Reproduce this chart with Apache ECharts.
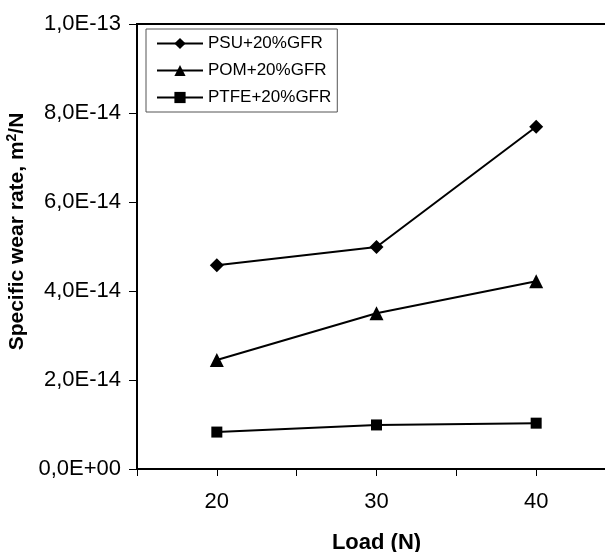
<!DOCTYPE html>
<html>
<head>
<meta charset="utf-8">
<script src="https://cdn.jsdelivr.net/npm/echarts@6/dist/echarts.min.js"></script>
<style>
  html, body { margin: 0; padding: 0; background: #fff; }
  #chart { width: 605px; height: 552px; }
</style>
</head>
<body>
<div id="chart"></div>
<script>
// Data
const loads = [20, 30, 40]
const psu = [4.58e-14, 4.99e-14, 7.69e-14]
const pom = [2.45e-14, 3.50e-14, 4.22e-14]
const ptfe = [0.83e-14, 0.99e-14, 1.03e-14]
const xTickLabels = [20, 30, 40]

const font = 'Liberation Sans, Arial, sans-serif'

// 1.0e-13 -> "1,0E-13"
const sciLabel = v => {
  const [m, e] = v.toExponential(1).split('e')
  const n = parseInt(e, 10)
  const exp = (n < 0 ? '-' : '+') + String(Math.abs(n)).padStart(2, '0')
  return m.replace('.', ',') + 'E' + exp
}

const pairs = ys => loads.map((x, i) => [x, ys[i]])

const chart = echarts.init(document.getElementById('chart'))

const lineSeries = (name, ys, symbol, size) => ({
  name,
  type: 'line',
  data: pairs(ys),
  symbol,
  symbolSize: size,
  showAllSymbol: true,
  lineStyle: { color: '#000', width: 2 },
  itemStyle: { color: '#000' },
  emphasis: { disabled: true }
})

const options = {
  animation: false,
  backgroundColor: '#fff',
  // plot runs past the right edge of the picture (x = 45 sits off-canvas)
  grid: {
    left: 137, top: 24, width: 479, height: 445,
    outerBoundsMode: 'none',
    containLabel: false,
    show: true, borderColor: '#000', borderWidth: 2
  },
  legend: {
    left: 146, top: 29,
    orient: 'vertical',
    backgroundColor: '#fff',
    borderColor: '#555', borderWidth: 1,
    padding: [6, 6, 6, 10],
    itemWidth: 46, itemHeight: 14, itemGap: 10,
    textStyle: { fontFamily: font, fontSize: 17, color: '#000' },
    data: ['PSU+20%GFR', 'POM+20%GFR', 'PTFE+20%GFR']
  },
  xAxis: {
    type: 'value',
    min: 15, max: 45, interval: 5,
    name: 'Load (N)',
    nameLocation: 'middle',
    nameGap: 63,
    nameTextStyle: { fontFamily: font, fontSize: 22, fontWeight: 'bold', color: '#000' },
    axisLine: { lineStyle: { color: '#000', width: 2 } },
    axisTick: { length: 7, lineStyle: { color: '#000', width: 1 } },
    splitLine: { show: false },
    axisLabel: {
      margin: 22,
      fontFamily: font, fontSize: 22, color: '#000',
      formatter: v => xTickLabels.includes(v) ? String(v) : ''
    }
  },
  yAxis: {
    type: 'value',
    min: 0, max: 1e-13, interval: 2e-14,
    name: 'Specific wear rate, m{sup|2}/N',
    nameLocation: 'middle',
    nameGap: 100,
    nameTextStyle: {
      fontFamily: font, fontSize: 21, fontWeight: 'bold', color: '#000',
      padding: [0, 0, 0, 30],
      rich: {
        sup: { fontFamily: font, fontSize: 14, fontWeight: 'bold', color: '#000', padding: [0, 0, 9, 0] }
      }
    },
    axisLine: { lineStyle: { color: '#000', width: 2 } },
    axisTick: { length: 8, lineStyle: { color: '#000', width: 1 } },
    splitLine: { show: false },
    axisLabel: {
      margin: 16,
      fontFamily: font, fontSize: 22, color: '#000',
      formatter: sciLabel
    }
  },
  series: [
    lineSeries('PSU+20%GFR', psu, 'diamond', 14),
    lineSeries('POM+20%GFR', pom, 'triangle', 14),
    lineSeries('PTFE+20%GFR', ptfe, 'rect', 11)
  ]
}
chart.setOption(options)
</script>
</body>
</html>
